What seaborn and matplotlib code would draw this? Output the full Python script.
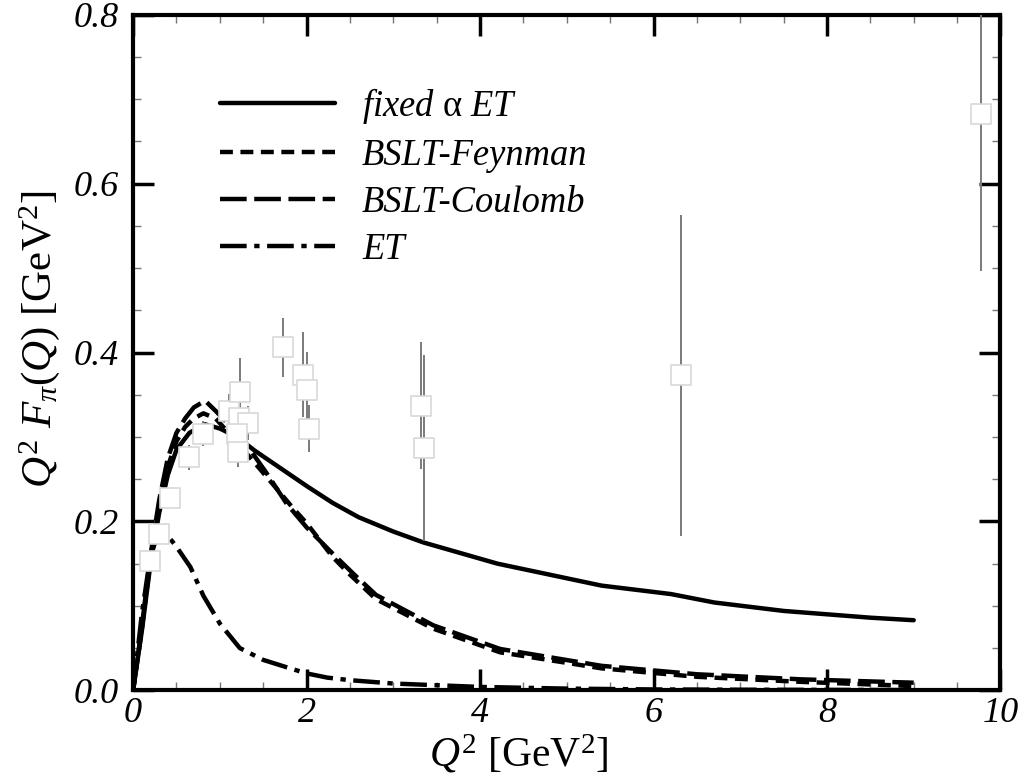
import numpy as np
import pandas as pd
import matplotlib
matplotlib.use("Agg")
import matplotlib.pyplot as plt
import seaborn as sns

# model curves
q2_fixed = [0, 0.1, 0.2, 0.3, 0.4, 0.5, 0.65, 0.83, 1.0, 1.2, 1.4, 1.6, 2.0, 2.3, 2.6, 3.0,
            3.35, 4.2, 5.4, 6.2, 6.7, 7.5, 8.5, 9.0]
f_fixed = [0, 0.07, 0.15, 0.21, 0.255, 0.285, 0.305, 0.315, 0.31, 0.30, 0.284, 0.27, 0.242,
           0.222, 0.205, 0.188, 0.175, 0.15, 0.124, 0.114, 0.104, 0.094, 0.086, 0.083]

q2_feyn = [0, 0.1, 0.2, 0.3, 0.4, 0.5, 0.6, 0.7, 0.81, 0.95, 1.1, 1.38, 1.62, 1.85, 2.0, 2.3,
           2.5, 2.8, 3.46, 4.23, 5.4, 6.5, 7.7, 9.0]
f_feyn = [0, 0.072, 0.155, 0.218, 0.265, 0.295, 0.312, 0.322, 0.328, 0.322, 0.305, 0.272,
          0.243, 0.215, 0.198, 0.158, 0.137, 0.108, 0.073, 0.045, 0.026, 0.016, 0.010, 0.005]

q2_coul = [0, 0.1, 0.2, 0.3, 0.4, 0.5, 0.6, 0.7, 0.83, 0.96, 1.1, 1.3, 1.54, 1.77, 2.0, 2.3,
           2.54, 2.8, 3.46, 4.23, 5.4, 6.5, 7.7, 9.0]
f_coul = [0, 0.075, 0.16, 0.225, 0.275, 0.305, 0.322, 0.335, 0.343, 0.33, 0.315, 0.292,
          0.257, 0.221, 0.193, 0.162, 0.138, 0.113, 0.077, 0.049, 0.029, 0.019, 0.013, 0.009]

q2_et = [0, 0.1, 0.2, 0.3, 0.4, 0.5, 0.66, 0.81, 1.0, 1.23, 1.5, 1.81, 2.0, 2.24, 2.5, 3.0,
         3.5, 4.0, 5.0, 6.0, 7.0, 8.0, 9.0]
f_et = [0, 0.09, 0.16, 0.188, 0.183, 0.17, 0.146, 0.112, 0.079, 0.050, 0.036, 0.026, 0.020,
        0.015, 0.012, 0.008, 0.006, 0.004, 0.002, 0.001, 0.0007, 0.0005, 0.0003]

# experimental points
q2_data = [0.19, 0.30, 0.42, 0.65, 0.81, 1.11, 1.23, 1.22, 1.33, 1.20, 1.21,
           1.73, 1.96, 2.01, 2.03, 3.32, 3.35, 6.32, 9.78]
f_data = [0.153, 0.185, 0.228, 0.276, 0.304, 0.331, 0.353, 0.323, 0.317, 0.303, 0.282,
          0.406, 0.374, 0.356, 0.310, 0.337, 0.287, 0.373, 0.682]
f_err = [0.01, 0.01, 0.01, 0.015, 0.015, 0.02, 0.04, 0.02, 0.02, 0.02, 0.018,
         0.035, 0.05, 0.045, 0.028, 0.075, 0.11, 0.19, 0.185]

labels = ["fixed $\\mathrm{\\alpha}$ ET", "BSLT-Feynman", "BSLT-Coulomb", "ET"]

sns.set_theme(style="ticks")
plt.rcParams["font.family"] = ["Liberation Serif", "DejaVu Serif"]
plt.rcParams["mathtext.fontset"] = "custom"
plt.rcParams["mathtext.rm"] = "Liberation Serif"
plt.rcParams["mathtext.it"] = "Liberation Serif:italic"
for k in ["text.color", "axes.labelcolor", "xtick.color", "ytick.color"]:
    plt.rcParams[k] = "black"

fig = plt.figure(figsize=(10.24, 7.8), dpi=100)
ax = fig.add_axes([0.130, 0.115, 0.847, 0.866])

styles = ["-", (0, (2.9, 1.7)), (0, (6, 1.7)), (0, (6, 1.7, 1.2, 1.7))]
curves = [(q2_fixed, f_fixed), (q2_feyn, f_feyn), (q2_coul, f_coul), (q2_et, f_et)]
for (xs, ys), ls, lab in zip(curves, styles, labels):
    sns.lineplot(x=xs, y=ys, ax=ax, color="black", linewidth=3.2, linestyle=ls,
                 label=lab, sort=False, estimator=None, zorder=2)

ax.errorbar(q2_data, f_data, yerr=f_err, fmt="none", ecolor="#7a7a7a",
            elinewidth=1.4, capsize=0, zorder=3)
sns.scatterplot(x=q2_data, y=f_data, ax=ax, marker="s", s=225, color="white",
                edgecolor="#d8d8d8", linewidth=1.2, zorder=4)

ax.set_xlim(0, 10)
ax.set_ylim(0, 0.8)
ax.set_xticks(np.arange(0, 11, 2))
ax.set_yticks(np.arange(0, 0.81, 0.2))
ax.set_xticks(np.arange(0, 10.01, 0.5), minor=True)
ax.set_yticks(np.arange(0, 0.801, 0.05), minor=True)
ax.set_xticklabels([f"{v:d}" for v in range(0, 11, 2)])
ax.set_yticklabels([f"{v:.1f}" for v in np.arange(0, 0.81, 0.2)])
ax.tick_params(which="major", direction="in", length=15, width=2.5, color="black",
               top=True, right=True, labelsize=26, labelcolor="black", pad=10)
ax.tick_params(axis="x", which="major", pad=5)
ax.tick_params(which="minor", direction="in", length=6, width=1, color="#777777",
               top=True, right=True)
for t in ax.get_xticklabels() + ax.get_yticklabels():
    t.set_fontstyle("italic")

for sp in ax.spines.values():
    sp.set_linewidth(3)
    sp.set_color("black")

ax.set_xlabel(r"$Q^2\ [\mathrm{GeV}^2]$", fontsize=30)
ax.xaxis.set_label_coords(0.445, -0.062)
ax.set_ylabel(r"$Q^2\ F_\pi(Q)\ [\mathrm{GeV}^2]$", fontsize=31)
ax.yaxis.set_label_coords(-0.082, 0.519)

leg = ax.legend(loc="upper left", bbox_to_anchor=(0.100, 0.895), frameon=False,
                prop={"family": "Liberation Serif", "style": "italic", "size": 26.3},
                handlelength=3.15, handletextpad=0.74, labelspacing=0.345,
                borderpad=0, borderaxespad=0)

fig.savefig("out.png", dpi=100)
